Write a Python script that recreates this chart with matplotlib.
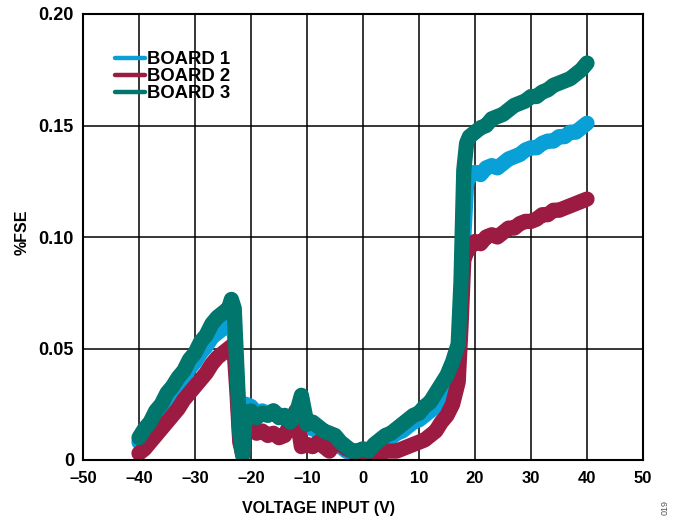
import matplotlib
matplotlib.use("Agg")
import matplotlib.pyplot as plt

plt.rcParams["font.family"] = ["Liberation Sans", "DejaVu Sans"]
plt.rcParams["font.weight"] = "bold"

# input voltage (V)
voltage = [-40, -39, -38, -37, -36, -35, -34, -33, -32, -31, -30, -29, -28, -27, -26, -25, -24,
           -23.5, -23, -22.5, -22, -21.5, -21,
           -20, -19, -18, -17, -16, -15, -14, -13, -12, -11, -10, -9, -8, -7, -6, -5, -4, -3, -2, -1,
           0, 1, 2, 3, 4, 5, 6, 7, 8, 9, 10, 11, 12, 13, 14, 15, 16, 17,
           17.5, 18, 18.5,
           19, 20, 21, 22, 23, 24, 25, 26, 27, 28, 29, 30, 31, 32, 33, 34, 35, 36, 37, 38, 39, 40]

# %FSE per board
board1 = [0.008, 0.012, 0.015, 0.019, 0.023, 0.027, 0.030, 0.034, 0.037, 0.041, 0.044, 0.048, 0.051, 0.055, 0.057, 0.059, 0.060,
          0.061, 0.058, 0.035, 0.010, 0.003, 0.025,
          0.024, 0.021, 0.022, 0.021, 0.022, 0.020, 0.019, 0.017, 0.018, 0.020, 0.015, 0.014, 0.013, 0.011, 0.010, 0.008, 0.006, 0.004, 0.003, 0.003,
          0.003, 0.004, 0.005, 0.007, 0.009, 0.010, 0.012, 0.013, 0.015, 0.017, 0.018, 0.020, 0.022, 0.024, 0.027, 0.030, 0.034, 0.045,
          0.070, 0.100, 0.124,
          0.127, 0.129, 0.128, 0.131, 0.132, 0.131, 0.133, 0.135, 0.136, 0.137, 0.139, 0.140, 0.140, 0.142, 0.143, 0.143, 0.145, 0.145, 0.147, 0.147, 0.149, 0.151]

board2 = [0.003, 0.005, 0.008, 0.011, 0.014, 0.017, 0.020, 0.023, 0.027, 0.030, 0.033, 0.036, 0.039, 0.043, 0.046, 0.048, 0.050,
          0.051, 0.049, 0.030, 0.008, 0.003, 0.015,
          0.014, 0.012, 0.013, 0.011, 0.012, 0.010, 0.011, 0.016, 0.022, 0.006, 0.007, 0.006, 0.008, 0.006, 0.004, 0.008, 0.007, 0.005, 0.004, 0.003,
          0.003, 0.002, 0.002, 0.003, 0.004, 0.004, 0.004, 0.005, 0.006, 0.007, 0.008, 0.009, 0.011, 0.013, 0.017, 0.020, 0.025, 0.035,
          0.060, 0.090, 0.093,
          0.095, 0.098, 0.097, 0.100, 0.101, 0.100, 0.102, 0.104, 0.104, 0.106, 0.107, 0.107, 0.108, 0.110, 0.110, 0.112, 0.112, 0.113, 0.114, 0.115, 0.116, 0.117]

board3 = [0.010, 0.014, 0.017, 0.022, 0.025, 0.030, 0.033, 0.037, 0.040, 0.045, 0.048, 0.053, 0.056, 0.061, 0.064, 0.066, 0.068,
          0.072, 0.068, 0.040, 0.012, 0.002, 0.021,
          0.022, 0.019, 0.021, 0.020, 0.022, 0.019, 0.020, 0.017, 0.020, 0.029, 0.016, 0.017, 0.015, 0.013, 0.012, 0.011, 0.008, 0.006, 0.004, 0.004,
          0.005, 0.004, 0.007, 0.009, 0.011, 0.012, 0.014, 0.016, 0.018, 0.020, 0.021, 0.024, 0.026, 0.030, 0.034, 0.038, 0.044, 0.052,
          0.080, 0.130, 0.142,
          0.145, 0.147, 0.149, 0.150, 0.153, 0.154, 0.155, 0.157, 0.159, 0.160, 0.161, 0.163, 0.163, 0.165, 0.166, 0.168, 0.169, 0.170, 0.171, 0.173, 0.175, 0.178]

labels = ["BOARD 1", "BOARD 2", "BOARD 3"]
colors = ["#09A0D8", "#9C1B42", "#00766D"]

fig = plt.figure(figsize=(6.73, 5.21), dpi=100)
ax = fig.add_axes([83 / 673, 61 / 521, 560 / 673, 446 / 521])

for vals, lab, col in zip([board1, board2, board3], labels, colors):
    ax.plot(voltage, vals, color=col, lw=11, solid_capstyle="round",
            solid_joinstyle="round", label=lab)

ax.set_xlim(-50, 50)
ax.set_ylim(0, 0.20)
xt = [-50, -40, -30, -20, -10, 0, 10, 20, 30, 40, 50]
ax.set_xticks(xt)
ax.set_xticklabels([str(v).replace("-", "\u2013") for v in xt])
ax.set_yticks([0, 0.05, 0.10, 0.15, 0.20])
ax.set_yticklabels(["0", "0.05", "0.10", "0.15", "0.20"])
ax.tick_params(axis="both", length=0)
ax.tick_params(axis="x", pad=8, labelsize=12)
ax.tick_params(axis="y", pad=6.5, labelsize=13)
ax.grid(True, color="black", lw=1.1)
ax.set_axisbelow(True)
for s in ax.spines.values():
    s.set_linewidth(1.5)

ax.set_xlabel("VOLTAGE INPUT (V)", fontsize=11.5, fontweight="bold")
ax.xaxis.set_label_coords(0.42, -0.108)
ax.xaxis.label.set_va("center")
ax.set_ylabel("%FSE", fontsize=11.5, fontweight="bold")
ax.yaxis.set_label_coords(-0.109, 0.511)
ax.yaxis.label.set_va("center")

leg = ax.legend(loc="upper left", bbox_to_anchor=(0.058, 0.917), frameon=False,
                fontsize=13.3, handlelength=1.6, handletextpad=0.1,
                labelspacing=0.0, borderpad=0, borderaxespad=0)
for line in leg.get_lines():
    line.set_linewidth(3.2)
for t in leg.get_texts():
    t.set_fontweight("bold")

fig.text(665 / 673, 21 / 521, "019", rotation=90, ha="center", va="top",
         fontsize=6.5, color="#555555", fontweight="normal")

fig.savefig("out.png", dpi=100)
